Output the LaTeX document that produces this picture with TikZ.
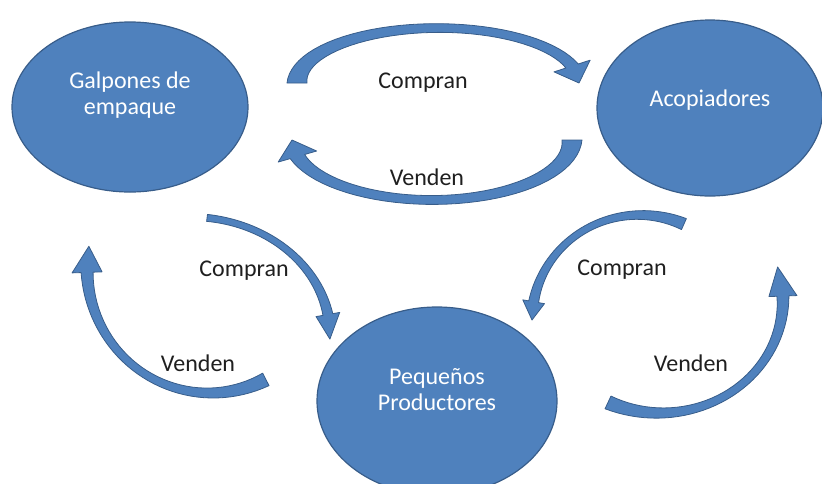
\documentclass[tikz,border=0pt]{standalone}
\usepackage{fontspec}
\setmainfont{Carlito}
\usetikzlibrary{shapes.geometric}
\definecolor{nodeblue}{RGB}{79,129,189}
\definecolor{edgeblue}{RGB}{56,93,138}
\tikzset{
  actor/.style={ellipse, draw=edgeblue, line width=1.2pt, fill=nodeblue, inner sep=0pt},
  actortext/.style={text=white, align=center, font=\fontsize{24}{26}\selectfont},
  flowtext/.style={text=black!88, font=\fontsize{24}{26}\selectfont},
  swoosh/.style={fill=nodeblue, draw=edgeblue, line width=0.8pt, line join=round}
}
\begin{document}
\begin{tikzpicture}[x=1pt,y=-1pt,
  declare function={bw(\s,\a,\m,\b)=(1-\s)^2*\a+2*\s*(1-\s)*(2*\m-(\a+\b)/2)+\s^2*\b;}]
\useasboundingbox (0,0) rectangle (822,483);
\clip (0,0) rectangle (822,483);

\node[actor, minimum width=236pt, minimum height=170pt] (galpones) at (130,107) {};
\node[actor, minimum width=226pt, minimum height=176pt] (acopiadores) at (710,108) {};
\node[actor, minimum width=240pt, minimum height=188pt] (productores) at (437,401) {};

\node[actortext] (galponestxt) at ([yshift=12pt]galpones.center) {Galpones de\\empaque};
\node[actortext] (acopiadorestxt) at ([yshift=8pt]acopiadores.center) {Acopiadores};
\node[actortext] (productorestxt) at ([yshift=11pt]productores.center) {Pequeños\\Productores};

\foreach \cx/\cy/\rx/\ry/\ta/\tb/\tc/\wa/\wm/\wb/\hw in {
  438/83/141/55/180/342/360/20/9/13/19,
  432/140/140/60/0/164/180/20/9/15/20,
  190/335/140/118/277/350/362/7/7/10/12,
  210/268/123/125/63/178/190/14/8/12/15,
  640/320/108/105/294/190/180/12/7/10/11,
  660/300/123/113/115/-2/-17/14/8/12/14}
{
\draw[swoosh]
  plot[domain=\ta:\tb, samples=40, variable=\ang]
    ({\cx+(\rx+bw((\ang-\ta)/(\tb-\ta),\wa,\wm,\wb)/2)*cos(\ang)},
     {\cy+(\ry+bw((\ang-\ta)/(\tb-\ta),\wa,\wm,\wb)/2)*sin(\ang)})
  -- ({\cx+(\rx+\hw)*cos(\tb)},{\cy+(\ry+\hw)*sin(\tb)})
  -- ({\cx+\rx*cos(\tc)},{\cy+\ry*sin(\tc)})
  -- ({\cx+(\rx-\hw)*cos(\tb)},{\cy+(\ry-\hw)*sin(\tb)})
  -- plot[domain=\tb:\ta, samples=40, variable=\ang]
    ({\cx+(\rx-bw((\ang-\ta)/(\tb-\ta),\wa,\wm,\wb)/2)*cos(\ang)},
     {\cy+(\ry-bw((\ang-\ta)/(\tb-\ta),\wa,\wm,\wb)/2)*sin(\ang)})
  -- cycle;
}

\node[flowtext] (compran1) at (423,83) {Compran};
\node[flowtext] (venden1) at (427,177) {Venden};
\node[flowtext] (compran2) at (244,271) {Compran};
\node[flowtext] (venden2) at (198,363) {Venden};
\node[flowtext] (compran3) at (622,270) {Compran};
\node[flowtext] (venden3) at (691,363) {Venden};
\end{tikzpicture}
\end{document}
